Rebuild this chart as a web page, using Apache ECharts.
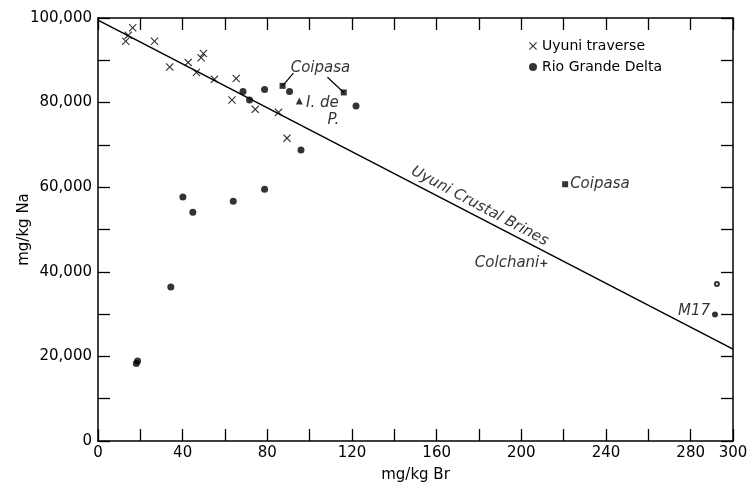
<!DOCTYPE html>
<html>
<head>
<meta charset="utf-8">
<script src="https://cdn.jsdelivr.net/npm/echarts@6/dist/echarts.min.js"></script>
<style>
html,body{margin:0;padding:0;background:#fff;}
#chart{width:750px;height:483px;}
</style>
</head>
<body>
<div id="chart"></div>
<script>
// ---- data (mg/kg Br, mg/kg Na) ----
const uyuniBr = [13.1, 14.3, 16.4, 26.7, 33.9, 42.6, 46.5, 48.7, 49.8, 55.0, 65.3, 63.3, 74.3, 85.3, 89.3];
const uyuniNa = [94500, 95900, 97700, 94500, 88400, 89500, 87100, 90600, 91600, 85500, 85700, 80600, 78400, 77700, 71600];

const rioBr = [68.5, 71.6, 78.7, 90.5, 95.9, 121.9, 40.1, 44.8, 63.9, 78.7, 34.4, 18.1, 18.7];
const rioNa = [82600, 80600, 83100, 82600, 68800, 79200, 57700, 54100, 56700, 59500, 36400, 18300, 18900];

const coipasaBr = [87.2, 116.1, 220.7];
const coipasaNa = [83960, 82400, 60700];

const iDePBr = [95.1];
const iDePNa = [80400];

const colchaniBr = [210.6];
const colchaniNa = [42000];

const m17Br = [291.5];
const m17Na = [29900];

const openBr = [292.4];
const openNa = [37100];

const brineLineBr = [0, 300];
const brineLineNa = [99500, 21700];

const xTickLabels = [0, 40, 80, 120, 160, 200, 240, 280, 300];
const yTickLabels = [0, 20000, 40000, 60000, 80000, 100000];

// annotation anchors (data coordinates)
const brineLabelAt = [180.3, 55500];
const coipasaLabelAt = [105.1, 88140];
const coipasaLeaderA = [[92.3, 86960], [87.2, 83960]];
const coipasaLeaderB = [[108.4, 86000], [116.1, 82400]];
const iDeLabelAt = [106.0, 79870];
const pLabelAt = [111.2, 75850];

const FONT = 'DejaVu Sans';
const pts = (xs, ys) => xs.map((x, i) => [x, ys[i]]);
const crossPath = 'path://M0,1L1,0L5,4L9,0L10,1L6,5L10,9L9,10L5,6L1,10L0,9L4,5Z';
const italic = {fontFamily: FONT, fontStyle: 'italic', fontSize: 15, color: '#000'};

const chart = echarts.init(document.getElementById('chart'));
const axisLine = {show: true, onZero: false, lineStyle: {color: '#000', width: 1.5}};
const tick = {show: true, inside: true, length: 12, lineStyle: {color: '#000', width: 1.3}};

chart.setOption({
  animation: false,
  backgroundColor: '#fff',
  grid: {left: 98, right: 17, top: 18, bottom: 42, containLabel: false, outerBoundsMode: 'none'},
  legend: {
    orient: 'vertical', left: 524, top: 34, itemGap: 7, itemWidth: 8, itemHeight: 8,
    textStyle: {fontFamily: FONT, fontSize: 14, color: '#000'},
    data: ['Uyuni traverse', 'Rio Grande Delta']
  },
  xAxis: [
    {
      type: 'value', min: 0, max: 300, interval: 20, position: 'bottom',
      name: 'mg/kg Br', nameLocation: 'middle', nameGap: 27, nameMoveOverlap: false,
      nameTextStyle: {fontFamily: FONT, fontSize: 15, color: '#000'},
      axisLine: axisLine, axisTick: tick, splitLine: {show: false},
      axisLabel: {
        fontFamily: FONT, fontSize: 15, color: '#000', margin: 5,
        formatter: v => xTickLabels.indexOf(v) >= 0 ? String(v) : ''
      }
    },
    {
      type: 'value', min: 0, max: 300, interval: 20, position: 'top',
      axisLine: axisLine, axisTick: tick, splitLine: {show: false}, axisLabel: {show: false}
    }
  ],
  yAxis: [
    {
      type: 'value', min: 0, max: 100000, interval: 10000, position: 'left',
      name: 'mg/kg Na', nameLocation: 'middle', nameGap: 66, nameMoveOverlap: false,
      nameTextStyle: {fontFamily: FONT, fontSize: 15, color: '#000'},
      axisLine: axisLine, axisTick: tick, splitLine: {show: false},
      axisLabel: {
        fontFamily: FONT, fontSize: 15, color: '#000', margin: 6,
        formatter: v => yTickLabels.indexOf(v) >= 0 ? v.toLocaleString('en-US') : ''
      }
    },
    {
      type: 'value', min: 0, max: 100000, interval: 10000, position: 'right',
      axisLine: axisLine, axisTick: tick, splitLine: {show: false}, axisLabel: {show: false}
    }
  ],
  series: [
    {
      name: 'Uyuni Crustal Brines', type: 'line', data: pts(brineLineBr, brineLineNa),
      showSymbol: false, symbol: 'none', silent: true, z: 1,
      lineStyle: {color: '#000', width: 1.5}
    },
    {
      name: 'brineLabel', type: 'scatter', data: [brineLabelAt], symbolSize: 0, silent: true,
      label: {show: true, position: 'inside', rotate: -28, formatter: 'Uyuni Crustal Brines', ...italic}
    },
    {
      name: 'Uyuni traverse', type: 'scatter', data: pts(uyuniBr, uyuniNa),
      symbol: crossPath, symbolSize: 8, itemStyle: {color: '#000'}
    },
    {
      name: 'Rio Grande Delta', type: 'scatter', data: pts(rioBr, rioNa),
      symbol: 'circle', symbolSize: 7, itemStyle: {color: '#000'}
    },
    {
      name: 'Coipasa', type: 'scatter', data: pts(coipasaBr, coipasaNa).map((p, i) => ({
        value: p,
        label: i === 2 ? {show: true, position: 'right', distance: 2, formatter: 'Coipasa', ...italic} : {show: false}
      })),
      symbol: 'rect', symbolSize: 6, itemStyle: {color: '#000'}
    },
    {
      name: 'coipasaLeaderA', type: 'line', data: coipasaLeaderA, symbol: 'none', silent: true,
      lineStyle: {color: '#000', width: 1.2}
    },
    {
      name: 'coipasaLeaderB', type: 'line', data: coipasaLeaderB, symbol: 'none', silent: true,
      lineStyle: {color: '#000', width: 1.2}
    },
    {
      name: 'coipasaLabel', type: 'scatter', data: [coipasaLabelAt], symbolSize: 0, silent: true,
      label: {show: true, position: 'inside', formatter: 'Coipasa', ...italic}
    },
    {
      name: 'I. de P.', type: 'scatter', data: pts(iDePBr, iDePNa),
      symbol: 'triangle', symbolSize: 7, itemStyle: {color: '#000'}
    },
    {
      name: 'iDeLabel', type: 'scatter', data: [iDeLabelAt, pLabelAt].map((p, i) => ({
        value: p, label: {show: true, position: 'inside', formatter: i === 0 ? 'I. de' : 'P.', ...italic}
      })),
      symbolSize: 0, silent: true
    },
    {
      name: 'Colchani', type: 'scatter', data: pts(colchaniBr, colchaniNa),
      symbol: 'path://M4,0L6,0L6,4L10,4L10,6L6,6L6,10L4,10L4,6L0,6L0,4L4,4Z', symbolSize: 7,
      itemStyle: {color: '#000'},
      label: {show: true, position: 'left', distance: 1, formatter: 'Colchani', ...italic}
    },
    {
      name: 'M17', type: 'scatter', data: pts(m17Br, m17Na),
      symbol: 'circle', symbolSize: 6, itemStyle: {color: '#000'},
      label: {show: true, position: 'left', distance: 2, offset: [0, -3], formatter: 'M17', ...italic}
    },
    {
      name: 'open', type: 'scatter', data: pts(openBr, openNa),
      symbol: 'emptyCircle', symbolSize: 4, itemStyle: {color: '#000', borderColor: '#000', borderWidth: 1}
    }
  ]
});
</script>
</body>
</html>
